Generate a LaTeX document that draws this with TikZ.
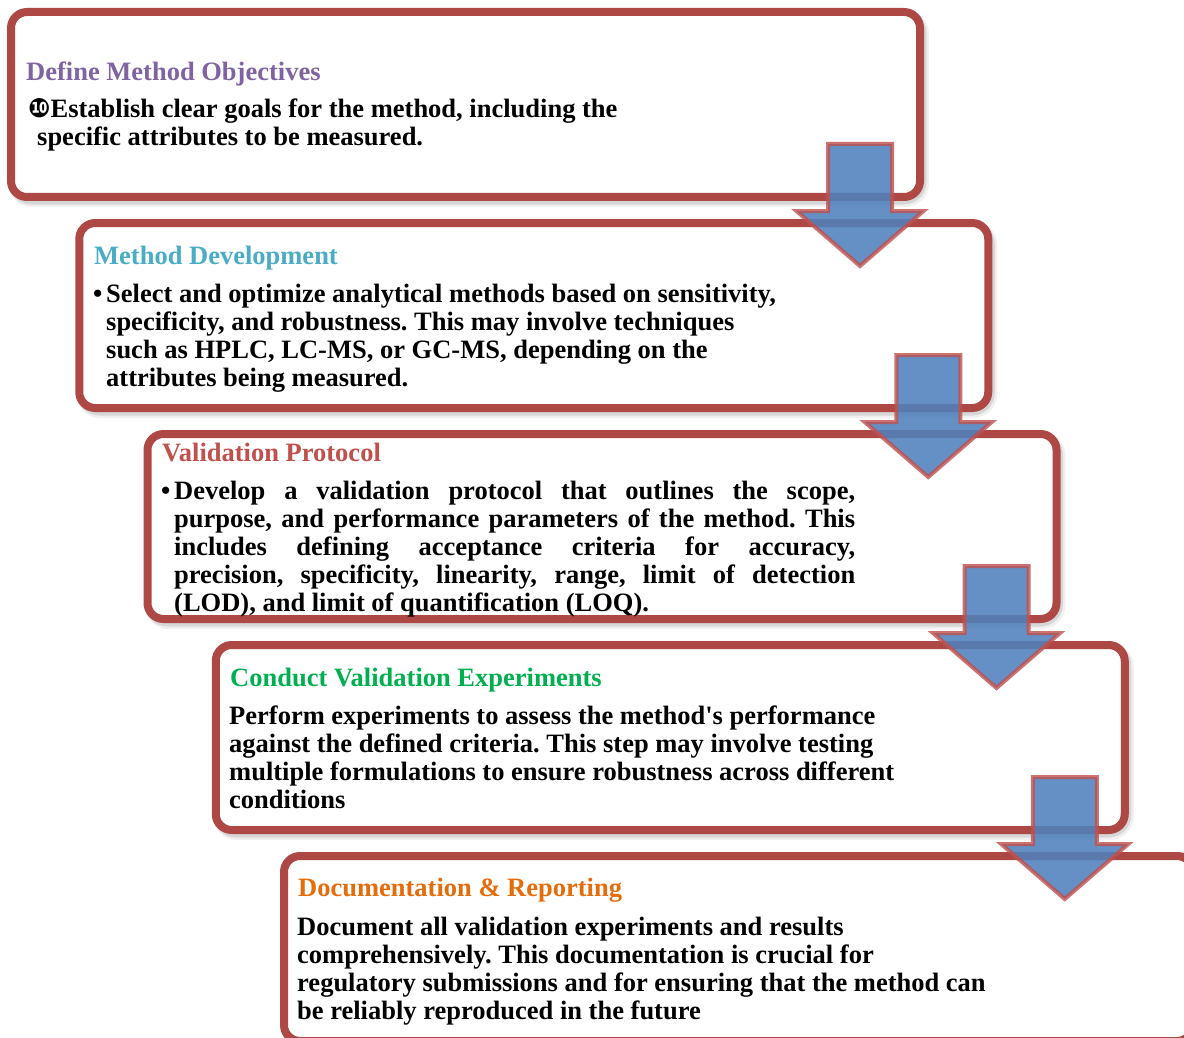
\documentclass[tikz,border=0pt]{standalone}
\usepackage{fontspec}
\setmainfont{Liberation Serif}
\newfontfamily\plainserif{Liberation Serif}
\newfontfamily\dingfont{DejaVu Sans}
\usetikzlibrary{calc}

\definecolor{frame}{HTML}{AD4845}
\definecolor{arrowblue}{HTML}{4F81BD}
\definecolor{arrowedge}{HTML}{C0504D}
\definecolor{tpurple}{HTML}{8064A2}
\definecolor{tteal}{HTML}{4BACC6}
\definecolor{tred}{HTML}{C0504D}
\definecolor{tgreen}{HTML}{00B050}
\definecolor{torange}{HTML}{E46C0A}

\tikzset{
  stepbox/.style={draw=frame, line width=8pt, rounded corners=16pt, fill=white,
    minimum width=909pt, minimum height=185pt, inner sep=0pt, outer sep=0pt,
    anchor=north west},
  boxshadow/.style={draw=black, rounded corners=18pt},
  title/.style={anchor=base west, inner sep=0pt},
  body/.style={anchor=base west, inner sep=0pt},
  blockarrow/.style={fill=arrowblue, fill opacity=0.88, draw=arrowedge,
    draw opacity=0.8, line width=4pt, line join=miter}
}

% block arrow whose tip sits on the given coordinate
\newcommand\blockarrowat[1]{%
  \draw[blockarrow] (#1) -- ++(-63.5,-55) -- ++(31.5,0) -- ++(0,-67)
    -- ++(64,0) -- ++(0,67) -- ++(31.5,0) -- cycle;}
\newcommand\paralines[1]{\parbox[t]{900pt}{\frenchspacing #1}}
\newcommand\apos{{\bfseries\plainserif\symbol{39}}}

\begin{document}
\begin{tikzpicture}[x=1pt, y=-1pt, font=\fontsize{26.5}{28}\selectfont\bfseries]
\clip (0,0) rectangle (1184,1038);
\fill[white] (0,0) rectangle (1184,1038);

% soft shadows below the frames
\foreach \k in {0,...,4} {
  \path[boxshadow, line width=12pt, draw opacity=0.06]
    ({11+68.25*\k+3},{12+211*\k+4}) rectangle ++(909,185);
  \path[boxshadow, line width=9pt, draw opacity=0.10]
    ({11+68.25*\k+2},{12+211*\k+3}) rectangle ++(909,185);
}

% frames
\node[stepbox] (b1) at (11,12) {};
\node[stepbox] (b2) at (79.25,223) {};
\node[stepbox] (b3) at (147.5,434) {};
\node[stepbox] (b4) at (215.75,645) {};
\node[stepbox] (b5) at (284,856) {};

% step 1
\node[title, text=tpurple] (h1) at (26,81) {Define Method Objectives};
\node[body] (p1) at (28,118) {\paralines{{\dingfont\fontsize{26.5}{28}\selectfont ❿}Establish clear goals for the method, including the\\
\hspace*{9pt}specific attributes to be measured.}};

% step 2
\node[title, text=tteal] (h2) at (94,264) {Method Development};
\node[body] (d2) at (93,302) {•};
\node[body] (p2) at (106,302) {\paralines{Select and optimize analytical methods based on sensitivity,\\
specificity, and robustness. This may involve techniques\\
such as HPLC, LC-MS, or GC-MS, depending on the\\
attributes being measured.}};

% step 3
\node[title, text=tred] (h3) at (162,461) {Validation Protocol};
\node[body] (d3) at (161,499) {•};
\node[body] (p3) at (174,499) {\paralines{\makebox[681pt][s]{Develop a validation protocol that outlines the scope,}\\
\makebox[681pt][s]{purpose, and performance parameters of the method. This}\\
\makebox[681pt][s]{includes defining acceptance criteria for accuracy,}\\
\makebox[681pt][s]{precision, specificity, linearity, range, limit of detection}\\
(LOD), and limit of quantification (LOQ).}};

% step 4
\node[title, text=tgreen] (h4) at (230,686) {Conduct Validation Experiments};
\node[body] (p4) at (229,724) {\paralines{Perform experiments to assess the method\apos s performance\\
against the defined criteria. This step may involve testing\\
multiple formulations to ensure robustness across different\\
conditions}};

% step 5
\node[title, text=torange] (h5) at (298,896) {Documentation \& Reporting};
\node[body] (p5) at (297,935) {\paralines{Document all validation experiments and results\\
comprehensively. This documentation is crucial for\\
regulatory submissions and for ensuring that the method can\\
be reliably reproduced in the future}};

% arrows between consecutive steps
\coordinate (t1) at ($(b1.east |- b2.north)+(-60,43)$);
\coordinate (t2) at ($(b2.east |- b3.north)+(-60,43)$);
\coordinate (t3) at ($(b3.east |- b4.north)+(-60,43)$);
\coordinate (t4) at ($(b4.east |- b5.north)+(-60,43)$);
\blockarrowat{t1}
\blockarrowat{t2}
\blockarrowat{t3}
\blockarrowat{t4}
\end{tikzpicture}
\end{document}
